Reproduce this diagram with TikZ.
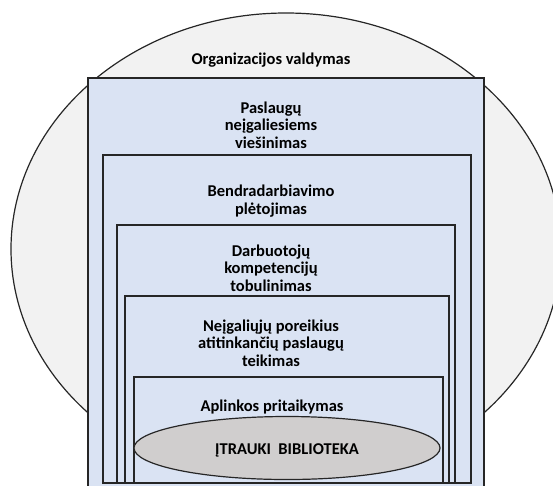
\documentclass[tikz,border=0pt]{standalone}
\usepackage{fontspec}
\setmainfont{Carlito}
\usepackage{tikz}
\usetikzlibrary{shapes.geometric, positioning}

\definecolor{layerblue}{HTML}{DAE3F3}
\definecolor{outergray}{HTML}{F2F2F2}
\definecolor{coregray}{HTML}{D0CECE}

\begin{document}
\begin{tikzpicture}[
  x=1pt, y=-1pt,
  layer/.style={draw=black!85, fill=layerblue, line width=1.4pt},
  lbl/.style={align=center, inner sep=0pt, font=\fontsize{16.5}{17.5}\selectfont\bfseries},
  core/.style={ellipse, draw=black!85, fill=coregray, line width=1.2pt, minimum width=306pt, minimum height=63pt, inner sep=0pt}
]
  \useasboundingbox (0,0) rectangle (553,485);
  \clip (0,0) rectangle (553,485);
  % organizacija
  \draw[fill=outergray, draw=black!85, line width=1.2pt] (286,249) ellipse [x radius=275pt, y radius=236pt];
  % nested layers
  \draw[layer] (88,78) rectangle (484,492);
  \draw[layer] (103,155) rectangle (471,483);
  \draw[layer] (117,225) rectangle (455,483);
  \draw[layer] (125,296) rectangle (449,483);
  \draw[layer] (134,377) rectangle (443,483);
  \node[core] (lib) at (287,448) {};
  % labels
  \node[lbl] (org) at (271,60) {Organizacijos valdymas};
  \node[lbl] (visin) at (271,125) {Paslaugų\\neįgaliesiems\\viešinimas};
  \node[lbl] (bendr) at (271,201) {Bendradarbiavimo\\plėtojimas};
  \node[lbl] (komp) at (271,268) {Darbuotojų\\kompetencijų\\tobulinimas};
  \node[lbl] (pasl) at (271,343) {Neįgaliųjų poreikius\\atitinkančių paslaugų\\teikimas};
  \node[lbl] (aplink) at (272,407) {Aplinkos pritaikymas};
  \node[lbl] at ([yshift=-2pt]lib.center) {ĮTRAUKI~~BIBLIOTEKA};
\end{tikzpicture}
\end{document}
